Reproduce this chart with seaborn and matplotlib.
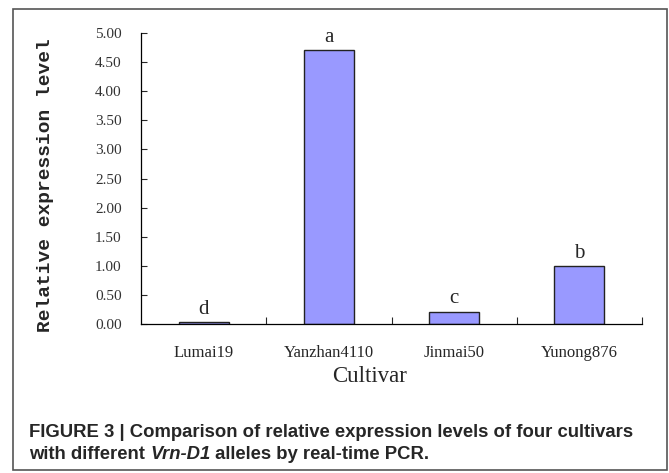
import matplotlib
matplotlib.use("Agg")
import matplotlib.pyplot as plt
import seaborn as sns
import pandas as pd
from matplotlib.patches import Rectangle

cultivars = ["Lumai19", "Yanzhan4110", "Jinmai50", "Yunong876"]
expression = [0.03, 4.71, 0.21, 0.99]
letters = ["d", "a", "c", "b"]
yticks = [0.0, 0.5, 1.0, 1.5, 2.0, 2.5, 3.0, 3.5, 4.0, 4.5, 5.0]

df = pd.DataFrame({"Cultivar": cultivars, "Expression": expression})

sns.set_style("white")
plt.rcParams["font.family"] = ["Liberation Serif", "DejaVu Serif"]

W, H = 669, 473
fig = plt.figure(figsize=(W / 100, H / 100), dpi=100)
ax = fig.add_axes([141 / W, 1 - 324 / H, (642 - 141) / W, (324 - 33) / H])

sns.barplot(data=df, x="Cultivar", y="Expression", ax=ax, color="#9999FF",
            width=0.4, edgecolor="#222222", linewidth=1.0, saturation=1)

ax.set_ylim(0, 5)
ax.set_xlim(-0.5, 3.5)
ax.set_yticks(yticks)
ax.set_yticklabels([f"{v:.2f}" for v in yticks], fontsize=11, color="#333333")
ax.tick_params(axis="y", direction="in", length=4, width=0.8, left=True, pad=14)
ax.tick_params(axis="x", which="major", length=0, pad=15, labelsize=12)
ax.set_xticks([0.5, 1.5, 2.5, 3.5], minor=True)
ax.tick_params(axis="x", which="minor", direction="in", length=5, width=0.8, bottom=True)

for s in ["top", "right"]:
    ax.spines[s].set_visible(False)
for s in ["left", "bottom"]:
    ax.spines[s].set_color("black")
    ax.spines[s].set_linewidth(0.9)

for i, (v, l) in enumerate(zip(expression, letters)):
    ax.text(i, v + 0.22, l, ha="center", va="center", fontsize=15)

ax.set_xlabel("Cultivar", fontsize=16.5)
ax.xaxis.set_label_coords((370 - 141) / (642 - 141), (324 - 377) / (324 - 33))
ax.xaxis.label.set_verticalalignment("center")
ax.set_ylabel("")
fig.text(46 / W, 1 - 185 / H, "Relative expression level", rotation=90,
         ha="center", va="center", fontsize=14, fontweight="bold",
         family=["Liberation Mono", "DejaVu Sans Mono"])

fig.patches.append(Rectangle((13 / W, 1 - 470 / H), (667 - 13) / W, (470 - 9) / H,
                             transform=fig.transFigure, fill=False,
                             edgecolor="#555555", linewidth=1.2))

cap = dict(fontsize=13.3, fontweight="bold", va="center", ha="left",
           family=["Liberation Sans", "DejaVu Sans"])
fig.text(29 / W, 1 - 432 / H,
         "FIGURE 3 | Comparison of relative expression levels of four cultivars", **cap)
fig.canvas.draw()
r = fig.canvas.get_renderer()
t1 = fig.text(29 / W, 1 - 454 / H, "with different ", **cap)
bb = t1.get_window_extent(r)
t2 = fig.text(bb.x1 / fig.bbox.width, 1 - 454 / H, "Vrn-D1", style="italic", **cap)
bb2 = t2.get_window_extent(r)
fig.text(bb2.x1 / fig.bbox.width, 1 - 454 / H, " alleles by real-time PCR.", **cap)

fig.savefig("out.png", dpi=100)
